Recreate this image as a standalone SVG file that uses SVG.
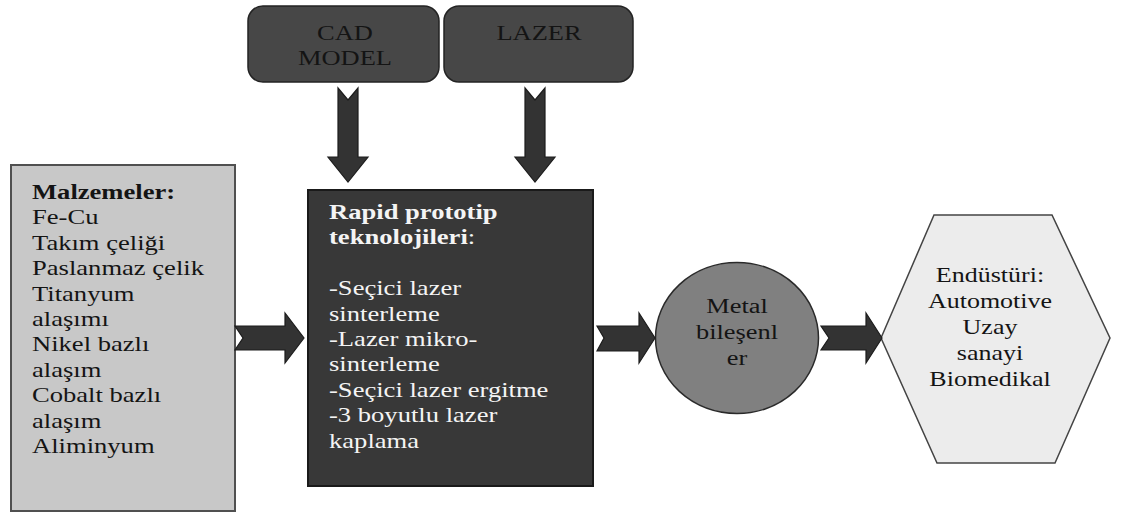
<svg xmlns="http://www.w3.org/2000/svg" width="1122" height="512" viewBox="0 0 1122 512">
<style>
  text { font-family: "Liberation Serif", "Times New Roman", serif; font-size: 20px; }
  .dark { fill: #141414; }
  .light { fill: #f4f4f4; }
  .b { font-weight: bold; }
  .arrow { fill: #333333; stroke: #1c1c1c; stroke-width: 1.2; stroke-linejoin: miter; }
  .mid { text-anchor: middle; }
</style>
<rect width="1122" height="512" fill="#ffffff"/>

<g id="cad-model">
  <rect x="248" y="6" width="191" height="76" rx="15" ry="15" fill="#474747" stroke="#232323" stroke-width="1.5"/>
  <g transform="translate(345,0) scale(1.26,1)">
    <text class="dark mid" x="0" y="40" style="font-size:21px">CAD</text>
    <text class="dark mid" x="0" y="65" style="font-size:21px">MODEL</text>
  </g>
</g>

<g id="lazer">
  <rect x="444" y="6" width="189" height="76" rx="15" ry="15" fill="#474747" stroke="#232323" stroke-width="1.5"/>
  <g transform="translate(539,0) scale(1.26,1)">
    <text class="dark mid" x="0" y="40" style="font-size:21px">LAZER</text>
  </g>
</g>

<g id="malzemeler">
  <rect x="11" y="165" width="224" height="346" fill="#c8c8c8" stroke="#505050" stroke-width="2"/>
  <g transform="translate(32,0) scale(1.33,1)">
    <text class="dark b" x="0" y="199">Malzemeler:</text>
    <text class="dark" x="0" y="224.4">Fe-Cu</text>
    <text class="dark" x="0" y="249.8">Takım çeliği</text>
    <text class="dark" x="0" y="275.2">Paslanmaz çelik</text>
    <text class="dark" x="0" y="300.6">Titanyum</text>
    <text class="dark" x="0" y="326">alaşımı</text>
    <text class="dark" x="0" y="351.4">Nikel bazlı</text>
    <text class="dark" x="0" y="376.8">alaşım</text>
    <text class="dark" x="0" y="402.2">Cobalt bazlı</text>
    <text class="dark" x="0" y="427.6">alaşım</text>
    <text class="dark" x="0" y="453">Aliminyum</text>
  </g>
</g>

<g id="rapid-prototip">
  <rect x="308" y="190" width="285" height="296" fill="#383838" stroke="#1a1a1a" stroke-width="2"/>
  <g transform="translate(329,0) scale(1.33,1)">
    <text class="light b" x="0" y="219">Rapid prototip</text>
    <text class="light b" x="0" y="244.4">teknolojileri<tspan font-weight="normal">:</tspan></text>
    <text class="light" x="0" y="295.2">-Seçici lazer</text>
    <text class="light" x="0" y="320.6">sinterleme</text>
    <text class="light" x="0" y="346">-Lazer mikro-</text>
    <text class="light" x="0" y="371.4">sinterleme</text>
    <text class="light" x="0" y="396.8">-Seçici lazer ergitme</text>
    <text class="light" x="0" y="422.2">-3 boyutlu lazer</text>
    <text class="light" x="0" y="447.6">kaplama</text>
  </g>
</g>

<g id="metal-bilesenler">
  <ellipse cx="737" cy="338" rx="81.5" ry="75.5" fill="#808080" stroke="#2a2a2a" stroke-width="1.5"/>
  <g transform="translate(737,0) scale(1.32,1)">
    <text class="dark mid" x="0" y="313">Metal</text>
    <text class="dark mid" x="0" y="339">bileşenl</text>
    <text class="dark mid" x="0" y="365">er</text>
  </g>
</g>

<g id="endusturi">
  <polygon points="881,338 934,215 1052,215 1110,338 1055,463 937,463" fill="#ececec" stroke="#444444" stroke-width="1.5"/>
  <g transform="translate(990,0) scale(1.3,1)">
    <text class="dark mid" x="0" y="282">Endüstüri:</text>
    <text class="dark mid" x="0" y="308">Automotive</text>
    <text class="dark mid" x="0" y="334">Uzay</text>
    <text class="dark mid" x="0" y="360">sanayi</text>
    <text class="dark mid" x="0" y="386">Biomedikal</text>
  </g>
</g>

<g id="connectors">
  <!-- CAD down arrow -->
  <polygon class="arrow" points="338,88 348,100 358,88 358,157 368,157 348,182 328,157 338,157"/>
  <!-- LAZER down arrow -->
  <polygon class="arrow" points="525,88 535,100 545,88 545,157 555,157 535,182 515,157 525,157"/>
  <!-- Malzemeler -> Rapid -->
  <polygon class="arrow" points="235,326 285,326 285,313 304,338 285,363 285,350 235,350 243,338"/>
  <!-- Rapid -> Metal -->
  <polygon class="arrow" points="597,326 639,326 639,313 655,338 639,363 639,351 597,351 604,338"/>
  <!-- Metal -> Endustri -->
  <polygon class="arrow" points="821,326 866,326 866,313 882,338 866,363 866,350 821,350 829,338"/>
</g>
</svg>
